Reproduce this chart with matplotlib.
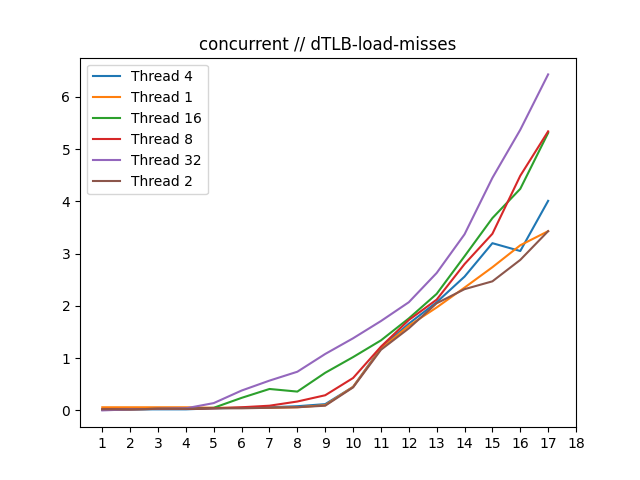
import matplotlib
matplotlib.use("Agg")
import matplotlib.pyplot as plt

x = list(range(1, 18))
t4 = [0.01, 0.02, 0.02, 0.02, 0.04, 0.05, 0.06, 0.08, 0.12, 0.45, 1.20, 1.66, 2.07, 2.56, 3.20, 3.05, 4.01]
t1 = [0.06, 0.06, 0.06, 0.06, 0.05, 0.05, 0.05, 0.06, 0.10, 0.45, 1.18, 1.62, 1.97, 2.35, 2.74, 3.16, 3.43]
t16 = [0.02, 0.02, 0.03, 0.03, 0.05, 0.24, 0.41, 0.36, 0.72, 1.02, 1.34, 1.76, 2.23, 2.95, 3.68, 4.24, 5.31]
t8 = [0.02, 0.02, 0.03, 0.03, 0.04, 0.06, 0.09, 0.17, 0.29, 0.62, 1.22, 1.73, 2.12, 2.80, 3.38, 4.49, 5.34]
t32 = [0.00, 0.02, 0.03, 0.04, 0.14, 0.38, 0.57, 0.74, 1.08, 1.38, 1.71, 2.07, 2.63, 3.37, 4.45, 5.37, 6.43]
t2 = [0.02, 0.02, 0.03, 0.03, 0.04, 0.04, 0.05, 0.06, 0.09, 0.44, 1.16, 1.57, 2.05, 2.32, 2.47, 2.88, 3.43]

series = [("Thread 4", t4), ("Thread 1", t1), ("Thread 16", t16),
          ("Thread 8", t8), ("Thread 32", t32), ("Thread 2", t2)]

fig, ax = plt.subplots(figsize=(6.4, 4.8), dpi=100)
for label, ys in series:
    ax.plot(x, ys, label=label)
ax.set_xticks(range(1, 19))
ax.set_title("concurrent // dTLB-load-misses")
ax.legend(loc="upper left")
fig.savefig("out.png")
